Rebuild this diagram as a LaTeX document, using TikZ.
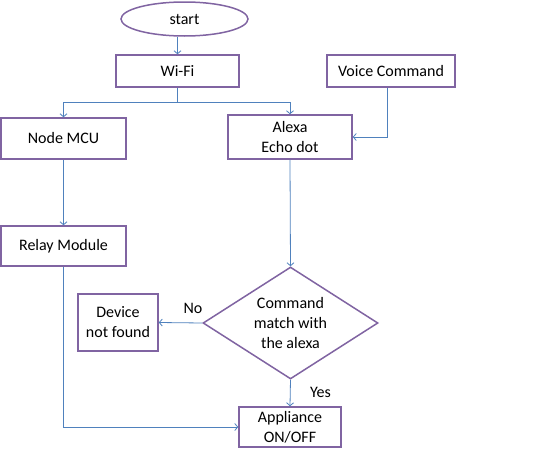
\documentclass[tikz,border=0pt]{standalone}
\usepackage{fontspec}
\setmainfont{Carlito}
\usetikzlibrary{shapes.geometric,arrows.meta}
\definecolor{boxc}{HTML}{8064A2}
\definecolor{linec}{HTML}{4F81BD}
\begin{document}
\begin{tikzpicture}[x=1pt,y=-1pt,
  box/.style={draw=boxc,line width=1.5pt,fill=white,inner sep=0pt,align=center,font=\fontsize{16}{20}\selectfont},
  conn/.style={draw=linec,line width=0.8pt,-{Straight Barb[length=3pt,width=7pt]}},
  plain/.style={draw=linec,line width=0.8pt},
  lbl/.style={font=\fontsize{16}{20}\selectfont,inner sep=0pt}]
\useasboundingbox (0,0) rectangle (550,458);
\node[box,ellipse,minimum width=127pt,minimum height=34pt] (start) at (184.5,19) {start};
\node[box,minimum width=123pt,minimum height=32pt] (wifi) at (177.5,71) {Wi-Fi};
\node[box,minimum width=128pt,minimum height=32pt] (voice) at (391,71) {Voice Command};
\node[box,minimum width=125pt,minimum height=41pt] (mcu) at (63.5,138.5) {Node MCU};
\node[box,minimum width=124pt,minimum height=44pt] (alexa) at (290,137) {Alexa\\Echo dot};
\node[box,minimum width=125pt,minimum height=40pt] (relay) at (63.5,246) {Relay Module};
\node[box,diamond,minimum width=175pt,minimum height=112pt,aspect=1.56] (dec) at (290.5,323) {Command\\match with\\the alexa};
\node[box,minimum width=80pt,minimum height=57pt] (dev) at (118,322.5) {Device\\not found};
\node[box,minimum width=102pt,minimum height=40pt] (app) at (290,427) {Appliance\\ON/OFF};
\coordinate (split) at (177.5,102);
\coordinate (sl) at (63.5,102);
\coordinate (sr) at (290,102);
\draw[conn] (start.south -| wifi.north) -- (wifi.north);
\draw[plain] (wifi.south) -- (split) -- (sl);
\draw[plain] (split) -- (sr);
\draw[conn] (sl) -- (mcu.north);
\draw[conn] (sr) -- (alexa.north);
\draw[conn] (voice.south -| 387,0) |- (alexa.east);
\draw[conn] (mcu.south) -- (relay.north);
\draw[conn] (alexa.south) -- (dec.north);
\draw[conn] (dec.west) -- (dev.east);
\draw[conn] (dec.south) -- (app.north);
\draw[conn] (relay.south) |- (app.west);
\node[lbl] (no) at (193,308) {No};
\node[lbl] (yes) at (320.5,392) {Yes};
\end{tikzpicture}
\end{document}
